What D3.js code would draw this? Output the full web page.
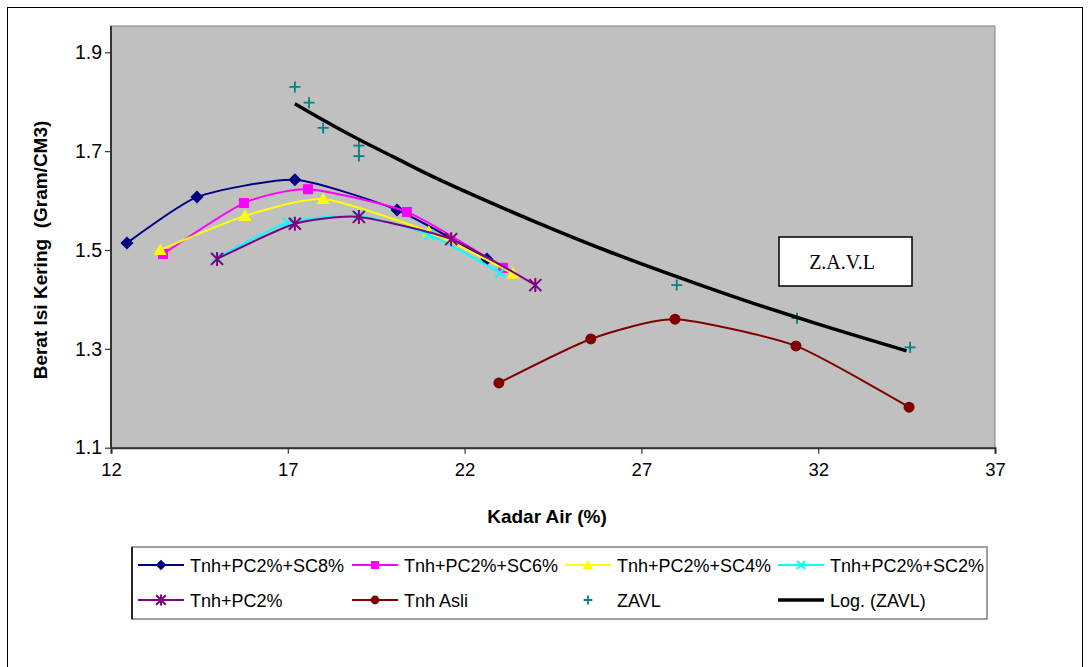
<!DOCTYPE html>
<html>
<head>
<meta charset="utf-8">
<title>Berat Isi Kering vs Kadar Air</title>
<style>
body {
    margin: 0px;
    overflow: hidden;
    background: #fff;
}
text {
    font-family: "Liberation Sans", Arial, sans-serif;
    white-space: pre;
}
</style>
<script src="https://cdnjs.cloudflare.com/ajax/libs/d3/7.8.5/d3.min.js"></script>
</head>
<body>
<div id="chart"></div>
<script>

// data: kadar air (%) and berat isi kering (gr/cm3)
var sc8X = [12.45, 14.43, 17.2, 20.09, 22.63];
var sc8Y = [1.514, 1.607, 1.642, 1.581, 1.482];

var sc6X = [13.47, 15.76, 17.57, 20.37, 23.09];
var sc6Y = [1.492, 1.595, 1.623, 1.577, 1.464];

var sc4X = [13.39, 15.79, 18.0, 20.99, 23.37];
var sc4Y = [1.500, 1.569, 1.603, 1.537, 1.452];

var sc2X = [15.0, 17.0, 19.01, 20.99, 23.0];
var sc2Y = [1.484, 1.555, 1.569, 1.531, 1.454];

var pcX = [15.0, 17.2, 19.01, 21.62, 24.0];
var pcY = [1.482, 1.553, 1.567, 1.522, 1.429];

var asliX = [22.97, 25.57, 27.95, 31.37, 34.57];
var asliY = [1.231, 1.320, 1.360, 1.306, 1.182];

var zavlX = [17.2, 17.6, 18.0, 19.01, 19.01, 28.0, 31.4, 34.6];
var zavlY = [1.830, 1.798, 1.747, 1.711, 1.690, 1.429, 1.362, 1.303];

var trendX = [17.2, 18, 19, 20, 21, 22, 24, 26, 28, 30, 32, 34.5];
var trendY = [1.796, 1.763, 1.724, 1.688, 1.652, 1.619, 1.557, 1.499, 1.446, 1.396, 1.350, 1.296];

var xTicks = [12, 17, 22, 27, 32, 37];
var yTicks = [1.1, 1.3, 1.5, 1.7, 1.9];

var legendNames = ["Tnh+PC2%+SC8%", "Tnh+PC2%+SC6%", "Tnh+PC2%+SC4%", "Tnh+PC2%+SC2%",
                   "Tnh+PC2%", "Tnh Asli", "ZAVL", "Log. (ZAVL)"];

var width = 1090, height = 667;
var plotLeft = 111, plotRight = 995, plotTop = 26, plotBottom = 447.7;

var svg = d3.select("#chart").append("svg")
        .attr("width", width)
        .attr("height", height);

// outer border
svg.append("rect")
    .attr("x", 7.5).attr("y", 7.5)
    .attr("width", 1075).attr("height", 680)
    .attr("fill", "none").attr("stroke", "#000").attr("stroke-width", 1);

var x = d3.scaleLinear().domain([12, 37]).range([plotLeft, plotRight]);
var y = d3.scaleLinear().domain([1.1, 1.9]).range([plotBottom, 52.3]);

// plot area
svg.append("rect")
    .attr("x", plotLeft).attr("y", plotTop)
    .attr("width", plotRight - plotLeft).attr("height", plotBottom - plotTop)
    .attr("fill", "#c0c0c0").attr("stroke", "#808080").attr("stroke-width", 1);

// axes
var xAxis = svg.append("g")
    .attr("transform", "translate(0," + plotBottom + ")")
    .call(d3.axisBottom(x).tickValues(xTicks).tickSize(6).tickPadding(9).tickFormat(d3.format("d")));
xAxis.select(".domain").attr("stroke", "#333").attr("stroke-width", 2);
xAxis.selectAll(".tick line").attr("stroke", "#333").attr("stroke-width", 1.2);
xAxis.selectAll(".tick text").attr("font-size", "18.5px").attr("fill", "#000")
    .attr("font-family", "'Liberation Sans', Arial, sans-serif");

var yAxis = svg.append("g")
    .attr("transform", "translate(" + plotLeft + ",0)")
    .call(d3.axisLeft(y).tickValues(yTicks).tickSize(6).tickPadding(3).tickFormat(d3.format(".1f")));
yAxis.select(".domain").attr("stroke", "#333").attr("stroke-width", 2)
    .attr("d", "M-0," + plotBottom + "V" + plotTop);
yAxis.selectAll(".tick line").attr("stroke", "#333").attr("stroke-width", 1.2);
yAxis.selectAll(".tick text").attr("font-size", "19.5px").attr("fill", "#000")
    .attr("font-family", "'Liberation Sans', Arial, sans-serif");

// axis titles
svg.append("text")
    .attr("x", (plotLeft + plotRight) / 2 - 6).attr("y", 523)
    .attr("text-anchor", "middle")
    .attr("font-size", "19px").attr("font-weight", "bold")
    .text("Kadar Air (%)");

svg.append("text")
    .attr("transform", "translate(47,250) rotate(-90)")
    .attr("text-anchor", "middle")
    .attr("font-size", "19px").attr("font-weight", "bold")
    .text("Berat Isi Kering  (Gram/CM3)");

// marker shapes
function markerPath(kind, s) {
    var k = s || 1;
    if (kind === "diamond") return "M0," + (-6.5 * k) + "L" + (6.5 * k) + ",0L0," + (6.5 * k) + "L" + (-6.5 * k) + ",0Z";
    if (kind === "square") return "M" + (-5 * k) + "," + (-5 * k) + "h" + (10 * k) + "v" + (10 * k) + "h" + (-10 * k) + "Z";
    if (kind === "triangle") return "M0," + (-6.5 * k) + "L" + (6.5 * k) + "," + (5 * k) + "L" + (-6.5 * k) + "," + (5 * k) + "Z";
    if (kind === "x") return "M" + (-5 * k) + "," + (-5 * k) + "L" + (5 * k) + "," + (5 * k) + "M" + (-5 * k) + "," + (5 * k) + "L" + (5 * k) + "," + (-5 * k);
    if (kind === "star") return "M" + (-6 * k) + "," + (-6 * k) + "L" + (6 * k) + "," + (6 * k) + "M" + (-6 * k) + "," + (6 * k) + "L" + (6 * k) + "," + (-6 * k) + "M0," + (-7 * k) + "L0," + (7 * k);
    if (kind === "plus") return "M" + (-5.5 * k) + ",0L" + (5.5 * k) + ",0M0," + (-5.5 * k) + "L0," + (5.5 * k);
    return "";
}

function drawMarker(g, kind, color, px, py, s) {
    if (kind === "circle") {
        g.append("circle").attr("cx", px).attr("cy", py).attr("r", 5.5 * (s || 1)).attr("fill", color);
        return;
    }
    var filled = (kind === "diamond" || kind === "square" || kind === "triangle");
    g.append("path")
        .attr("transform", "translate(" + px + "," + py + ")")
        .attr("d", markerPath(kind, s))
        .attr("fill", filled ? color : "none")
        .attr("stroke", filled ? "none" : color)
        .attr("stroke-width", kind === "plus" ? 1.8 : 2);
}

var series = [
    {xs: sc8X, ys: sc8Y, color: "#000080", marker: "diamond"},
    {xs: sc6X, ys: sc6Y, color: "#ff00ff", marker: "square"},
    {xs: sc4X, ys: sc4Y, color: "#ffff00", marker: "triangle"},
    {xs: sc2X, ys: sc2Y, color: "#00ffff", marker: "x"},
    {xs: pcX, ys: pcY, color: "#800080", marker: "star"},
    {xs: asliX, ys: asliY, color: "#800000", marker: "circle"}
];

// excel-like smoothing, a bit tighter than plain catmull-rom
var smooth = d3.line()
    .x(function (d) { return x(d[0]); })
    .y(function (d) { return y(d[1]); })
    .curve(d3.curveCardinal.tension(0.4));

series.forEach(function (s) {
    var pts = d3.zip(s.xs, s.ys);
    var g = svg.append("g");
    g.append("path")
        .attr("d", smooth(pts))
        .attr("fill", "none")
        .attr("stroke", s.color)
        .attr("stroke-width", 2);
    pts.forEach(function (p) {
        drawMarker(g, s.marker, s.color, x(p[0]), y(p[1]));
    });
});

// ZAVL points
var zg = svg.append("g");
d3.zip(zavlX, zavlY).forEach(function (p) {
    drawMarker(zg, "plus", "#008080", x(p[0]), y(p[1]));
});

// log trendline
svg.append("path")
    .attr("d", d3.line()
        .x(function (d) { return x(d[0]); })
        .y(function (d) { return y(d[1]); })
        .curve(d3.curveMonotoneX)(d3.zip(trendX, trendY)))
    .attr("fill", "none")
    .attr("stroke", "#000")
    .attr("stroke-width", 3.5);

// Z.A.V.L label box
svg.append("rect")
    .attr("x", 779).attr("y", 237)
    .attr("width", 133).attr("height", 49)
    .attr("fill", "#fff").attr("stroke", "#000").attr("stroke-width", 1.5);
svg.append("text")
    .attr("x", 842).attr("y", 269)
    .attr("text-anchor", "middle")
    .attr("font-size", "20px")
    .style("font-family", "'Liberation Serif', 'Times New Roman', serif")
    .text("Z.A.V.L");

// legend
var legend = svg.append("g");
legend.append("rect")
    .attr("x", 132).attr("y", 547)
    .attr("width", 855).attr("height", 72)
    .attr("fill", "#fff").attr("stroke", "#808080").attr("stroke-width", 1.5);
legend.append("line")
    .attr("x1", 132).attr("y1", 547).attr("x2", 132).attr("y2", 619)
    .attr("stroke", "#000").attr("stroke-width", 1.5);

var legendItems = [
    {color: "#000080", marker: "diamond", line: true},
    {color: "#ff00ff", marker: "square", line: true},
    {color: "#ffff00", marker: "triangle", line: true},
    {color: "#00ffff", marker: "x", line: true},
    {color: "#800080", marker: "star", line: true},
    {color: "#800000", marker: "circle", line: true},
    {color: "#008080", marker: "plus", line: false},
    {color: "#000", marker: null, line: true, thick: true}
];
var colX = [138, 352, 565, 778];
var rowY = [565, 600];

legendItems.forEach(function (item, i) {
    var lx = colX[i % 4], ly = rowY[Math.floor(i / 4)];
    if (item.line) {
        legend.append("line")
            .attr("x1", lx).attr("x2", lx + 46)
            .attr("y1", ly).attr("y2", ly)
            .attr("stroke", item.color)
            .attr("stroke-width", item.thick ? 3.5 : 2);
    }
    if (item.marker) {
        drawMarker(legend, item.marker, item.color, lx + 23, ly, 0.8);
    }
    legend.append("text")
        .attr("x", lx + 52).attr("y", ly + 6.5)
        .attr("font-size", "18px")
        .text(legendNames[i]);
});

</script>
</body>
</html>
